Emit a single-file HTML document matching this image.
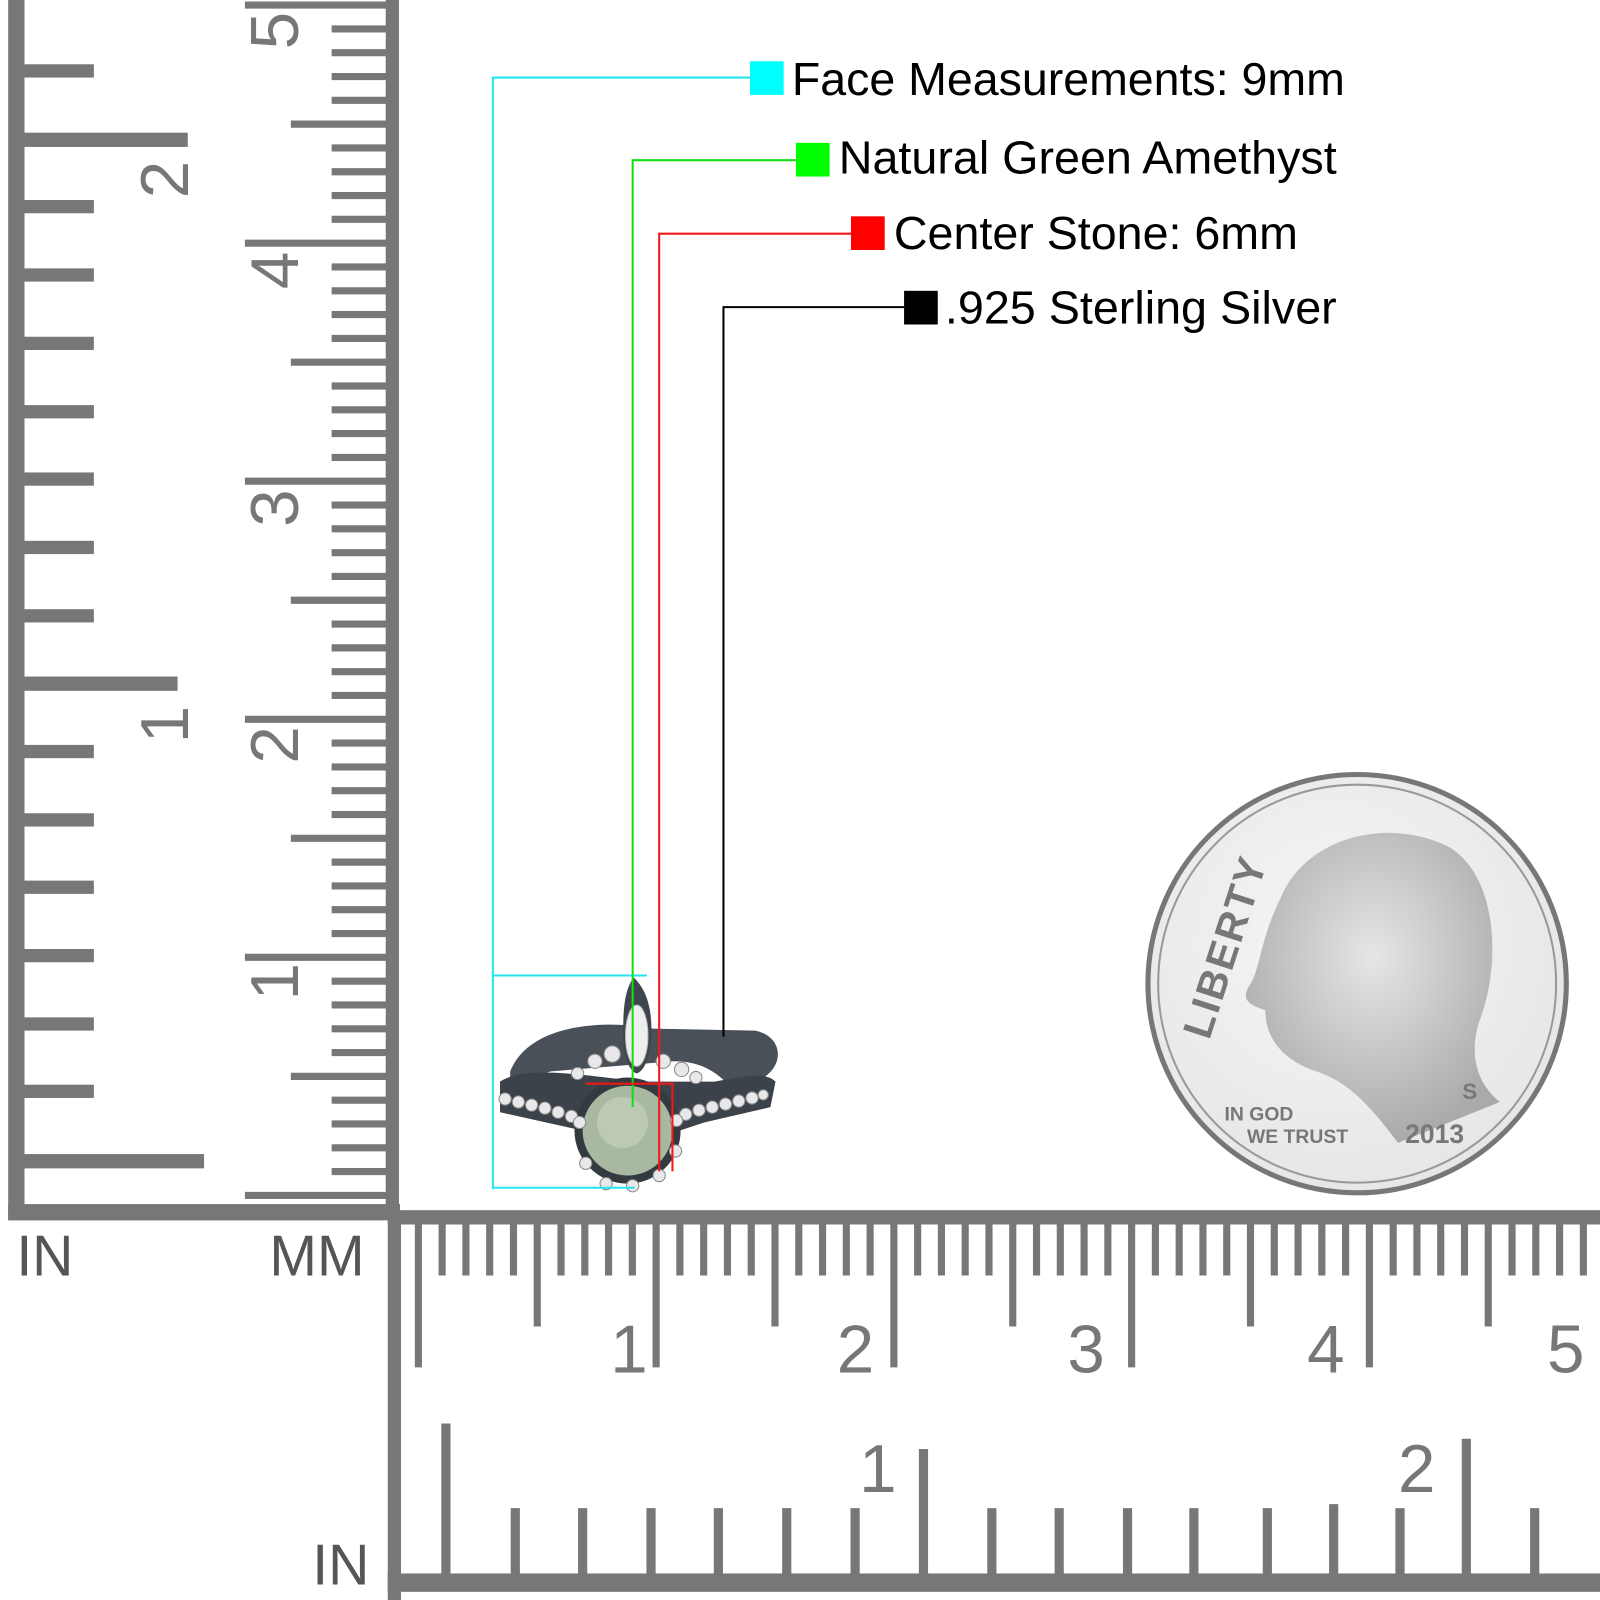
<!DOCTYPE html>
<html><head><meta charset="utf-8"><style>
html,body{margin:0;padding:0;background:#fff;}
svg{display:block}
text{font-family:"Liberation Sans",sans-serif;}
</style></head><body>
<svg width="1600" height="1600" viewBox="0 0 1568 1568" xmlns="http://www.w3.org/2000/svg">
<rect width="1568" height="1568" fill="#fff"/>
<g fill="#777" stroke="none">
<rect x="8" y="0" width="16" height="1195"/>
<rect x="8" y="1180" width="384" height="16"/>
<rect x="378" y="0" width="13" height="1196"/>
<rect x="24" y="63" width="68" height="13"/>
<rect x="24" y="130" width="160" height="14"/>
<rect x="24" y="196" width="68" height="13"/>
<rect x="24" y="263" width="68" height="13"/>
<rect x="24" y="330" width="68" height="13"/>
<rect x="24" y="397" width="68" height="13"/>
<rect x="24" y="463" width="68" height="13"/>
<rect x="24" y="530" width="68" height="13"/>
<rect x="24" y="597" width="68" height="13"/>
<rect x="24" y="663" width="150" height="14"/>
<rect x="24" y="730" width="68" height="13"/>
<rect x="24" y="797" width="68" height="13"/>
<rect x="24" y="863" width="68" height="13"/>
<rect x="24" y="930" width="68" height="13"/>
<rect x="24" y="997" width="68" height="13"/>
<rect x="24" y="1063" width="68" height="13"/>
<rect x="24" y="1131" width="176" height="14"/>
</g>
<g stroke="#777" stroke-width="7" fill="none" id="mmv"></g>
<g fill="#777" font-size="66">
<text transform="translate(184,176) rotate(-90)" text-anchor="middle">2</text>
<text transform="translate(184,710) rotate(-90)" text-anchor="middle">1</text>
<text transform="translate(292,30) rotate(-90)" text-anchor="middle">5</text>
<text transform="translate(292,265) rotate(-90)" text-anchor="middle">4</text>
<text transform="translate(292,498) rotate(-90)" text-anchor="middle">3</text>
<text transform="translate(292,730) rotate(-90)" text-anchor="middle">2</text>
<text transform="translate(292,962) rotate(-90)" text-anchor="middle">1</text>
</g>
<g fill="#777">
<rect x="380" y="1186" width="1188" height="14"/>
<rect x="380" y="1186" width="13" height="382"/>
<rect x="380" y="1542" width="1188" height="18"/>
</g>
<g id="mmh" stroke="#777" stroke-width="7"></g>
<g id="inh" stroke="#777" stroke-width="9">
<line x1="437" y1="1395" x2="437" y2="1545"/>
<line x1="905" y1="1420" x2="905" y2="1545"/>
<line x1="1437" y1="1410" x2="1437" y2="1545"/>
<line x1="505" y1="1478" x2="505" y2="1545"/>
<line x1="571" y1="1478" x2="571" y2="1545"/>
<line x1="638" y1="1478" x2="638" y2="1545"/>
<line x1="704" y1="1478" x2="704" y2="1545"/>
<line x1="771" y1="1478" x2="771" y2="1545"/>
<line x1="838" y1="1478" x2="838" y2="1545"/>
<line x1="972" y1="1478" x2="972" y2="1545"/>
<line x1="1038" y1="1478" x2="1038" y2="1545"/>
<line x1="1105" y1="1478" x2="1105" y2="1545"/>
<line x1="1170" y1="1478" x2="1170" y2="1545"/>
<line x1="1242" y1="1478" x2="1242" y2="1545"/>
<line x1="1307" y1="1474" x2="1307" y2="1545"/>
<line x1="1372" y1="1478" x2="1372" y2="1545"/>
<line x1="1504" y1="1478" x2="1504" y2="1545"/>
</g>
<g fill="#777" font-size="66">
<text x="598" y="1345">1</text>
<text x="820" y="1345">2</text>
<text x="1046" y="1345">3</text>
<text x="1281" y="1345">4</text>
<text x="1516" y="1345">5</text>
<text x="842" y="1462">1</text>
<text x="1370" y="1462">2</text>
</g>
<g fill="#555" font-size="56">
<text x="16" y="1250">IN</text>
<text x="264" y="1250">MM</text>
<text x="306" y="1553">IN</text>
</g>
<defs>
<radialGradient id="cg" cx="0.45" cy="0.4" r="0.7">
<stop offset="0" stop-color="#f6f6f6"/><stop offset="1" stop-color="#e4e4e4"/></radialGradient>
<radialGradient id="hg" cx="0.5" cy="0.4" r="0.6">
<stop offset="0" stop-color="#e6e6e6"/><stop offset="1" stop-color="#aaa"/></radialGradient>
</defs>
<circle cx="1330" cy="964" r="205" fill="url(#cg)" stroke="#777" stroke-width="5"/>
<circle cx="1330" cy="964" r="195" fill="none" stroke="#999" stroke-width="2"/>
<path d="M1255,880 C1280,820 1360,800 1420,830 C1470,860 1470,950 1450,1000 C1440,1030 1445,1060 1470,1080 L1370,1120 C1340,1080 1320,1060 1290,1050 C1260,1040 1240,1020 1240,990 C1225,985 1215,980 1225,965 C1235,950 1235,920 1255,880 Z" fill="url(#hg)"/>
<g fill="#777" font-weight="bold">
<text transform="translate(1185,1020) rotate(-72)" font-size="40" letter-spacing="2">LIBERTY</text>
<text x="1200" y="1098" font-size="19">IN GOD</text>
<text x="1222" y="1120" font-size="19">WE TRUST</text>
<text x="1377" y="1120" font-size="26">2013</text>
<text x="1433" y="1077" font-size="22">S</text>
</g>
<g>
<path d="M500,1050 C520,1000 600,1000 640,1008 L740,1010 C765,1015 770,1040 750,1055 L720,1070 C700,1045 680,1040 660,1040 L540,1050 C520,1055 510,1065 500,1070 Z" fill="#4a5058"/>
<path d="M490,1060 C520,1040 600,1060 640,1060 L700,1060 C730,1055 750,1050 760,1060 L755,1085 L690,1100 L660,1110 L580,1110 L490,1090 Z" fill="#3c424a"/>
<path d="M621,958 C634,970 640,990 638,1020 C636,1040 630,1050 624,1052 C618,1050 612,1040 611,1020 C610,990 612,970 621,958 Z" fill="#3f454c"/>
<ellipse cx="624" cy="1015" rx="11" ry="30" fill="#eee" stroke="#bbb"/>
<circle cx="615" cy="1108" r="52" fill="#333a40"/>
<circle cx="615" cy="1108" r="44" fill="#a9b8a0"/>
<circle cx="610" cy="1100" r="25" fill="#bccab4"/>
<g fill="#e8e8ea" stroke="#888" stroke-width="1">
<circle cx="495" cy="1077" r="6"/><circle cx="508" cy="1080" r="6"/><circle cx="521" cy="1083" r="6"/><circle cx="534" cy="1086" r="6"/><circle cx="547" cy="1090" r="6"/><circle cx="560" cy="1094" r="6"/>
<circle cx="672" cy="1092" r="6"/><circle cx="685" cy="1088" r="6"/><circle cx="698" cy="1085" r="6"/><circle cx="711" cy="1082" r="6"/><circle cx="724" cy="1079" r="6"/><circle cx="737" cy="1076" r="6"/><circle cx="748" cy="1073" r="5"/>
<circle cx="583" cy="1040" r="7"/><circle cx="600" cy="1033" r="8"/><circle cx="566" cy="1052" r="6"/><circle cx="650" cy="1040" r="7"/><circle cx="668" cy="1048" r="7"/><circle cx="682" cy="1056" r="6"/>
<circle cx="574" cy="1140" r="6"/><circle cx="594" cy="1160" r="6"/><circle cx="620" cy="1162" r="6"/><circle cx="646" cy="1152" r="6"/><circle cx="662" cy="1128" r="6"/><circle cx="568" cy="1100" r="6"/><circle cx="663" cy="1098" r="6"/>
</g>
</g>
<g fill="none" stroke-width="2">
<path d="M735,76 H483 V1164 H622 M483,956 H634" stroke="#22e6f0"/>
<path d="M780,157 H620 V1085" stroke="#14dd14"/>
<path d="M834,229 H646 V1148 M574,1062 H659 V1148" stroke="#f01818"/>
<path d="M886,301 H709 V1016" stroke="#000"/>
</g>
<rect x="735" y="60" width="33" height="33" fill="#0ff"/>
<rect x="780" y="140" width="33" height="33" fill="#0f0"/>
<rect x="834" y="212" width="33" height="33" fill="#f00"/>
<rect x="886" y="285" width="33" height="33" fill="#000"/>
<g fill="#000" font-size="45">
<text x="776" y="93" textLength="542" lengthAdjust="spacingAndGlyphs">Face Measurements: 9mm</text>
<text x="822" y="170" textLength="488" lengthAdjust="spacingAndGlyphs">Natural Green Amethyst</text>
<text x="876" y="244" textLength="396" lengthAdjust="spacingAndGlyphs">Center Stone: 6mm</text>
<text x="926" y="317" textLength="384" lengthAdjust="spacingAndGlyphs">.925 Sterling Silver</text>
</g>
<script>
(function(){
var ns="http://www.w3.org/2000/svg";
function line(g,x1,y1,x2,y2){var l=document.createElementNS(ns,"line");l.setAttribute("x1",x1);l.setAttribute("y1",y1);l.setAttribute("x2",x2);l.setAttribute("y2",y2);g.appendChild(l);}
var mv=document.getElementById("mmv");
for(var i=0;i<=50;i++){var y=5+i*23.33;if(y>1175)break;var x=325;if(i%10==0)x=240;else if(i%5==0)x=285;line(mv,x,y,380,y);}
var mh=document.getElementById("mmh");
for(var i=0;i<=50;i++){var x=410+i*23.3;if(x>1565)break;var y=1250;if(i%10==0)y=1340;else if(i%5==0)y=1300;line(mh,x,1200,x,y);}
})();
</script>
</svg>
</body></html>
